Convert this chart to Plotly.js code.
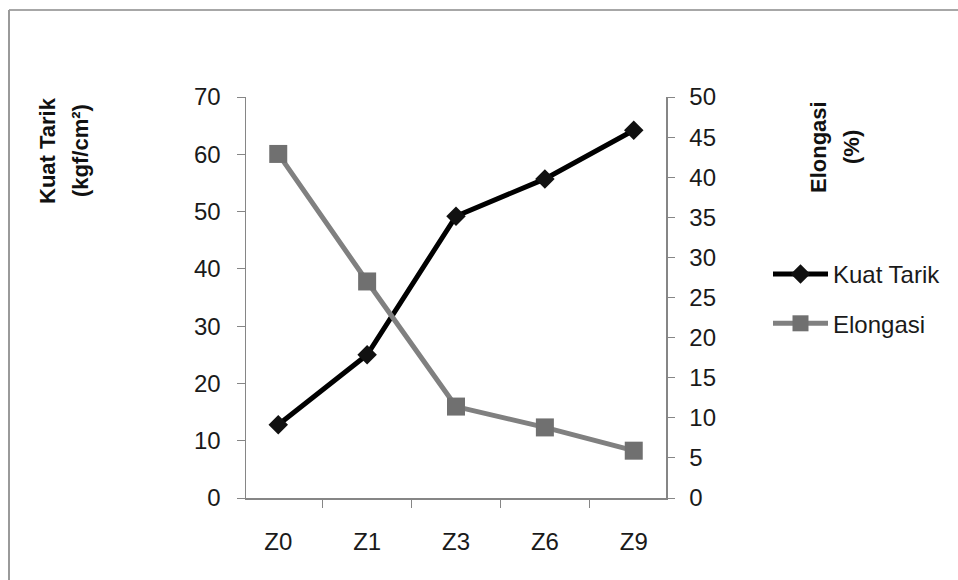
<!DOCTYPE html>
<html>
<head>
<meta charset="utf-8">
<script src="https://cdn.plot.ly/plotly-3.0.1.min.js"></script>
<style>html,body{margin:0;padding:0;background:#fff;}#chart{width:958px;height:580px;}</style>
</head>
<body>
<div id="chart"></div>
<script>
const categories = ["Z0", "Z1", "Z3", "Z6", "Z9"];
const kuatTarik = [12.8, 25.0, 49.2, 55.7, 64.2];
const elongasi = [42.9, 27.0, 11.4, 8.8, 5.9];
const leftTicks = [0, 10, 20, 30, 40, 50, 60, 70];
const rightTicks = [0, 5, 10, 15, 20, 25, 30, 35, 40, 45, 50];

const W = 958, H = 580;
const L = 246, R = 666, T = 97, B = 498;
const px = x => (x - L) / (R - L);
const py = y => (B - y) / (B - T);

const FONT = "Liberation Sans, Arial, sans-serif";
const tickFont = {family: FONT, size: 24, color: "#1a1a1a"};

const traces = [
  {
    x: categories, y: kuatTarik, name: "Kuat Tarik", type: "scatter", mode: "lines+markers",
    yaxis: "y", legendgroup: "a",
    line: {color: "#000000", width: 5},
    marker: {symbol: "diamond", size: 15, color: "#111111"}
  },
  {
    x: categories, y: elongasi, name: "Elongasi", type: "scatter", mode: "lines+markers",
    yaxis: "y2", legendgroup: "b",
    line: {color: "#808080", width: 5},
    marker: {symbol: "square", size: 18, color: "#707070"}
  }
];

const layout = {
  width: W, height: H,
  margin: {l: L, r: W - R, t: T, b: H - B, pad: 0},
  paper_bgcolor: "#ffffff", plot_bgcolor: "rgba(0,0,0,0)",
  font: {family: FONT, color: "#1a1a1a"},
  showlegend: true,
  legend: {
    x: px(768), xanchor: "left", y: py(299), yanchor: "middle",
    font: {family: FONT, size: 24, color: "#1a1a1a"},
    itemwidth: 55,
    tracegroupgap: 15, traceorder: "grouped", bgcolor: "rgba(0,0,0,0)"
  },
  xaxis: {
    type: "category", tickson: "boundaries", ticks: "outside", ticklen: 8, tickcolor: "#868686",
    showline: true, linecolor: "#868686", linewidth: 1.5, showgrid: false, zeroline: false,
    tickfont: tickFont, ticklabelstandoff: 22, fixedrange: true
  },
  yaxis: {
    range: [0, 70], tickvals: leftTicks, ticks: "outside", ticklen: 8, tickcolor: "#868686",
    showline: true, linecolor: "#868686", linewidth: 1.5, showgrid: false, zeroline: false,
    tickfont: tickFont, ticklabelstandoff: 11
  },
  yaxis2: {
    range: [0, 50], tickvals: rightTicks, overlaying: "y", side: "right", anchor: "x",
    ticks: "outside", ticklen: 7, tickcolor: "#868686",
    showline: true, linecolor: "#868686", linewidth: 1.5, showgrid: false, zeroline: false,
    tickfont: tickFont, ticklabelstandoff: 10
  },
  annotations: [
    {text: "<b>Kuat Tarik</b>", xref: "paper", yref: "paper", x: px(47), y: py(151), textangle: -90,
     showarrow: false, xanchor: "center", yanchor: "middle", font: {family: FONT, size: 22, color: "#111"}},
    {text: "<b>(kgf/cm²)</b>", xref: "paper", yref: "paper", x: px(80), y: py(151), textangle: -90,
     showarrow: false, xanchor: "center", yanchor: "middle", font: {family: FONT, size: 22, color: "#111"}},
    {text: "<b>Elongasi</b>", xref: "paper", yref: "paper", x: px(818), y: py(147), textangle: -90,
     showarrow: false, xanchor: "center", yanchor: "middle", font: {family: FONT, size: 22, color: "#111"}},
    {text: "<b>(%)</b>", xref: "paper", yref: "paper", x: px(851), y: py(147), textangle: -90,
     showarrow: false, xanchor: "center", yanchor: "middle", font: {family: FONT, size: 22, color: "#111"}}
  ],
  shapes: [
    {type: "line", xref: "paper", yref: "paper", x0: px(9), x1: px(958), y0: py(10), y1: py(10),
     line: {color: "#8a8a8a", width: 1.5}},
    {type: "line", xref: "paper", yref: "paper", x0: px(9), x1: px(9), y0: py(10), y1: py(580),
     line: {color: "#9a9a9a", width: 2}}
  ]
};

Plotly.newPlot("chart", traces, layout, {displayModeBar: false, staticPlot: true});
</script>
</body>
</html>
